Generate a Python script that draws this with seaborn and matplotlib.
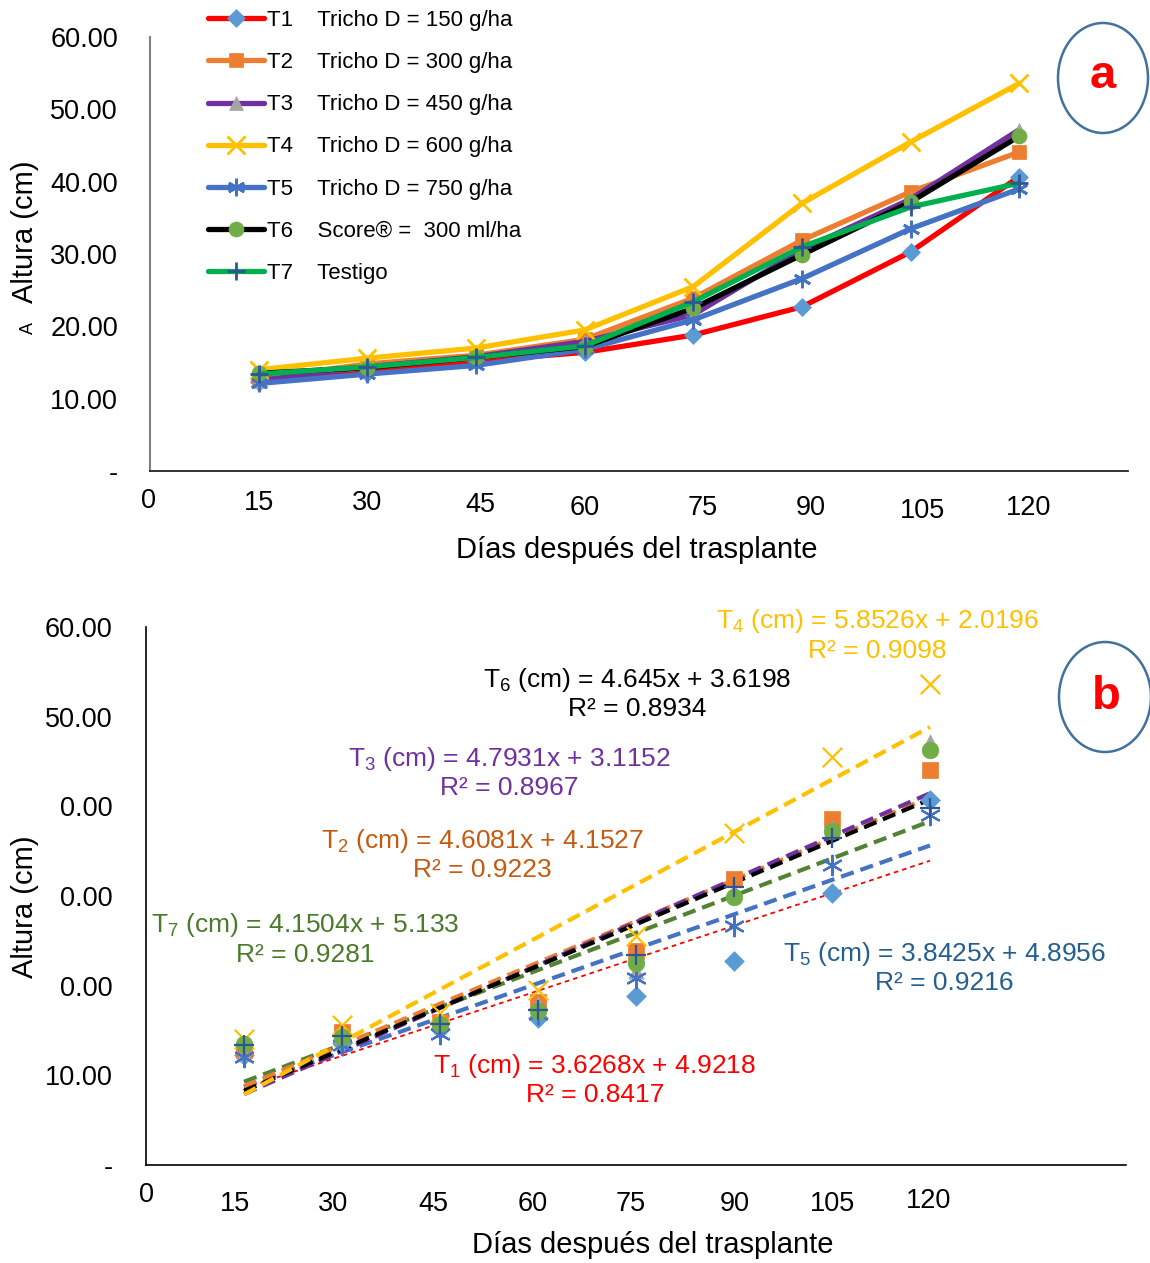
import numpy as np
import pandas as pd
import matplotlib
matplotlib.use("Agg")
import matplotlib.pyplot as plt
import matplotlib.transforms as mtransforms
from matplotlib.patches import Ellipse
import seaborn as sns

# ---------------- data ----------------
days = ["0", "15", "30", "45", "60", "75", "90", "105", "120"]
treatments = ["T1", "T2", "T3", "T4", "T5", "T6", "T7"]
doses = ["Tricho D = 150 g/ha", "Tricho D = 300 g/ha", "Tricho D = 450 g/ha",
         "Tricho D = 600 g/ha", "Tricho D = 750 g/ha", "Score® =  300 ml/ha",
         "Testigo"]

# plant height (cm) at each sampling (index 1..8 -> 15..120 days)
t1 = [12.3, 13.6, 15.2, 16.4, 18.8, 22.7, 30.3, 40.7]
t2 = [12.8, 14.8, 16.0, 18.2, 23.9, 31.9, 38.6, 44.1]
t3 = [12.5, 14.4, 15.8, 17.9, 21.6, 30.6, 37.6, 47.2]
t4 = [14.0, 15.6, 17.0, 19.5, 25.5, 37.0, 45.5, 53.6]
t5 = [12.1, 13.4, 14.6, 16.8, 20.9, 26.6, 33.5, 39.0]
t6 = [13.5, 14.3, 15.7, 17.2, 22.5, 29.9, 37.2, 46.3]
t7 = [13.4, 14.4, 15.7, 17.3, 23.4, 31.0, 36.5, 39.8]

# linear trend equations (x = sampling index)
slopes = [3.6268, 4.6081, 4.7931, 5.8526, 3.8425, 4.645, 4.1504]
intercepts = [4.9218, 4.1527, 3.1152, 2.0196, 4.8956, 3.6198, 5.133]
r_squared = [0.8417, 0.9223, 0.8967, 0.9098, 0.9216, 0.8934, 0.9281]

yticks_a = ["-", "10.00", "20.00", "30.00", "40.00", "50.00", "60.00"]
yticks_b = ["-", "10.00", "0.00", "0.00", "0.00", "50.00", "60.00"]

series = [t1, t2, t3, t4, t5, t6, t7]
idx = np.arange(1, 9)
df = pd.concat(
    [pd.DataFrame({"idx": idx, "altura": v, "trat": t}) for t, v in zip(treatments, series)],
    ignore_index=True)

# ---------------- styles ----------------
line_col = ["#FF0000", "#ED7D31", "#7030A0", "#FFC000", "#4472C4", "#000000", "#00B050"]
mark_col = ["#5B9BD5", "#ED7D31", "#A5A5A5", "#FFC000", "#4472C4", "#70AD47", "#2F5597"]
markers = ["D", "s", "^", "x", (6, 2, 0), "o", "+"]
msize = [10, 11, 11, 14, 14, 12, 15]
trend_col = ["#FF0000", "#ED7D31", "#7030A0", "#FFC000", "#4472C4", "#000000", "#548235"]
text_col = ["#FF0000", "#C55A11", "#7030A0", "#FFC000", "#255E91", "#000000", "#4A7A2A"]
# annotation centres (data coords of panel b)
ann_pos = [(4.58, 9.5), (3.43, 34.6), (3.71, 43.8), (7.46, 59.1),
           (8.15, 22.0), (5.01, 52.6), (1.62, 25.2)]

sns.set_style("white")
plt.rcParams["font.family"] = ["Liberation Sans", "DejaVu Sans"]
plt.rcParams["mathtext.fontset"] = "custom"
plt.rcParams["mathtext.rm"] = "Liberation Sans"
plt.rcParams["mathtext.default"] = "regular"
for key in ["text.color", "axes.labelcolor", "xtick.color", "ytick.color"]:
    plt.rcParams[key] = "black"

W, H = 1150, 1263
fig = plt.figure(figsize=(W / 100, H / 100), dpi=100)
fig.patch.set_facecolor("white")


def px_axes(left, top, right, bottom):
    return fig.add_axes([left / W, 1 - bottom / H, (right - left) / W, (bottom - top) / H])


def offset_ticklabels(ax, offsets):
    for lab, (dx, dy) in zip(ax.get_xticklabels(), offsets):
        lab.set_transform(lab.get_transform() +
                          mtransforms.ScaledTranslation(dx / 100, -dy / 100, fig.dpi_scale_trans))


# ================= panel a =================
axa = px_axes(150, 37, 1128, 471)
for i, t in enumerate(treatments):
    sub = df[df["trat"] == t]
    sns.lineplot(data=sub, x="idx", y="altura", ax=axa, color=line_col[i], lw=3.8,
                 marker=markers[i], markersize=msize[i] * 0.9,
                 markerfacecolor=mark_col[i], markeredgecolor=mark_col[i],
                 markeredgewidth=2.0 if i in (3, 4, 6) else 0.5,
                 label=f"{t}    {doses[i]}", zorder=3 + i)

axa.set_xlim(0, 9)
axa.set_ylim(0, 60)
axa.set_yticks(np.arange(0, 61, 10))
axa.set_yticklabels(yticks_a)
axa.set_xticks(np.arange(0, 9))
axa.set_xticklabels(days)
axa.tick_params(axis="both", length=0, labelsize=19.5)
axa.tick_params(axis="y", pad=23)
axa.tick_params(axis="x", pad=14)
for s in ["top", "right"]:
    axa.spines[s].set_visible(False)
axa.spines["left"].set_color("#808080")
axa.spines["left"].set_linewidth(1.5)
axa.spines["bottom"].set_color("#222222")
axa.spines["bottom"].set_linewidth(1.3)
axa.set_xlabel("Días después del trasplante", fontsize=21)
axa.set_ylabel("Altura (cm)", fontsize=21)
axa.xaxis.label.set_verticalalignment("center")
axa.yaxis.label.set_verticalalignment("center")
axa.xaxis.set_label_coords(0.498, -0.182)
axa.yaxis.set_label_coords(-0.128, 0.551)
axa.text(-0.124, 0.33, "A", rotation=90, fontsize=13, ha="center", va="center",
         transform=axa.transAxes)
offset_ticklabels(axa, [(-2, -2), (0, 0), (0, 0), (4, 2), (0, 5), (9, 5), (9, 5), (12, 8), (9, 5)])

handles, labels = axa.get_legend_handles_labels()
leg = axa.legend(handles, labels, loc="upper left", bbox_to_anchor=(197 / W, 1 + 1 / H),
                 bbox_transform=fig.transFigure, frameon=False, fontsize=16,
                 handlelength=2.5, handletextpad=0.15, labelspacing=0.95, borderpad=0)

fig.patches.append(Ellipse((1103 / W, 1 - 78 / H), 90 / W, 110 / H, transform=fig.transFigure,
                           fill=False, edgecolor="#41719C", lw=1.8))
fig.text(1103 / W, 1 - 76 / H, "a", color="#FF0000", fontsize=34, fontweight="bold",
         ha="center", va="center")

# ================= panel b =================
axb = px_axes(146, 627, 1126, 1165)
xt = np.array([1.0, 8.0])
trend_order = [0, 4, 6, 1, 2, 5, 3]
for i in trend_order:
    yt = slopes[i] * xt + intercepts[i]
    if i == 0:
        ls, lw = (0, (2.6, 2.2)), 1.3
    else:
        ls, lw = (0, (3.2, 1.7)), 3.0
    sns.lineplot(x=xt, y=yt, ax=axb, color=trend_col[i], lw=lw, linestyle=ls, zorder=3)

for i, t in enumerate(treatments):
    sub = df[df["trat"] == t]
    filled = i not in (3, 4, 6)
    sns.scatterplot(data=sub, x="idx", y="altura", ax=axb, marker=markers[i],
                    color=mark_col[i], edgecolor=mark_col[i],
                    s=(msize[i] * 1.0) ** 2, linewidth=0.5 if filled else 1.6, zorder=5)

for i in range(7):
    txt = (f"T$_{{{i + 1}}}$ (cm) = {slopes[i]:g}x + {intercepts[i]:g}\n"
           f"R² = {r_squared[i]:.4f}")
    axb.text(ann_pos[i][0], ann_pos[i][1], txt, color=text_col[i], fontsize=19,
             ha="center", va="center", multialignment="center", linespacing=1.17,
             clip_on=False, zorder=6)

axb.set_xlim(0, 10)
axb.set_ylim(0, 60)
axb.set_yticks(np.arange(0, 61, 10))
axb.set_yticklabels(yticks_b)
axb.set_xticks(np.arange(0, 9))
axb.set_xticklabels(days)
axb.tick_params(axis="both", length=0, labelsize=19.5)
axb.tick_params(axis="y", pad=24)
axb.tick_params(axis="x", pad=19)
for s in ["top", "right"]:
    axb.spines[s].set_visible(False)
for s in ["left", "bottom"]:
    axb.spines[s].set_color("#000000")
    axb.spines[s].set_linewidth(1.2)
axb.set_xlabel("Días después del trasplante", fontsize=21)
axb.set_ylabel("Altura (cm)", fontsize=21)
axb.xaxis.label.set_verticalalignment("center")
axb.yaxis.label.set_verticalalignment("center")
axb.xaxis.set_label_coords(0.517, -0.149)
axb.yaxis.set_label_coords(-0.1235, 0.48)
offset_ticklabels(axb, [(0, -9), (-9, 0), (-9, 0), (-7, 0), (-5, 0), (-5, 0), (1, 0), (1, 0), (-1, -3)])
if axb.get_legend() is not None:
    axb.get_legend().remove()

fig.patches.append(Ellipse((1105 / W, 1 - 697 / H), 92 / W, 110 / H, transform=fig.transFigure,
                           fill=False, edgecolor="#41719C", lw=1.8))
fig.text(1106 / W, 1 - 697 / H, "b", color="#FF0000", fontsize=34, fontweight="bold",
         ha="center", va="center")

fig.savefig("out.png", dpi=100)
